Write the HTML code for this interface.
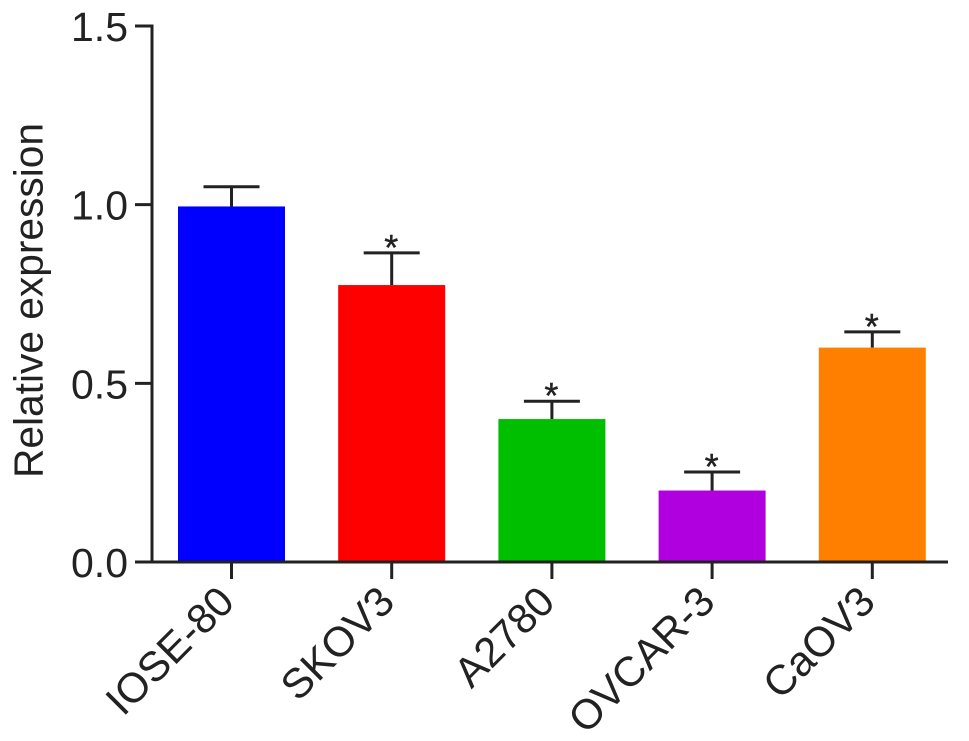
<!DOCTYPE html>
<html>
<head>
<meta charset="utf-8">
<style>
html,body{margin:0;padding:0;background:#fff;width:969px;height:741px;overflow:hidden}
svg{display:block}
text{font-family:"Liberation Sans",Arial,sans-serif;fill:#222}
</style>
</head>
<body>
<svg id="chart" width="969" height="741" viewBox="0 0 969 741" xmlns="http://www.w3.org/2000/svg"></svg>
<script>
const categories = ["IOSE-80", "SKOV3", "A2780", "OVCAR-3", "CaOV3"];
const values = [0.995, 0.775, 0.4, 0.2, 0.6];
const errors = [0.055, 0.09, 0.05, 0.052, 0.044];
const significant = [false, true, true, true, true];
const colors = ["#0000ff", "#ff0000", "#00bf00", "#b000e0", "#ff8000"];
const yTicks = [0, 0.5, 1.0, 1.5];

const svg = document.getElementById('chart');
const NS = 'http://www.w3.org/2000/svg';
const axisLeft = 152, axisRight = 948, y0 = 562, y15 = 26;
const firstCenter = 231.5, step = 160.2, barWidth = 107;
const yScale = v => y0 - (v / 1.5) * (y0 - y15);
const xScale = i => firstCenter + i * step;
const ink = '#222';

function add(tag, attrs, text) {
  const el = document.createElementNS(NS, tag);
  for (const k in attrs) el.setAttribute(k, attrs[k]);
  if (text !== undefined) el.textContent = text;
  svg.appendChild(el);
  return el;
}

categories.forEach((c, i) => {
  const x = xScale(i), top = yScale(values[i]), errTop = yScale(values[i] + errors[i]);
  const stem = add('line', {x1: x, x2: x, y1: top, y2: errTop, stroke: ink, 'stroke-width': 3});
  
  
  const cap = add('line', {x1: x - 28, x2: x + 28, y1: errTop, y2: errTop, stroke: ink, 'stroke-width': 3});
  
  
  const bar = add('rect', {x: x - barWidth / 2, y: top, width: barWidth, height: y0 - top, fill: colors[i]});
  
  
  if (significant[i]) {
    const star = add('text', {x: x - 0.5, y: errTop + 7, 'text-anchor': 'middle', 'font-size': 36, stroke: ink, 'stroke-width': 0.4}, '*');
    
    
  }
  const tick = add('line', {x1: x, x2: x, y1: y0, y2: y0 + 17, stroke: ink, 'stroke-width': 3});
  
  
  const lx = x + 5, ly = y0 + 42;
  const label = add('text', {x: lx, y: ly, 'text-anchor': 'end', 'font-size': 41.8, transform: 'rotate(-45 ' + lx + ' ' + ly + ')'}, c);
  
  
});

yTicks.forEach(t => {
  const y = yScale(t);
  const tick = add('line', {x1: axisLeft - 17, x2: axisLeft, y1: y, y2: y, stroke: ink, 'stroke-width': 3});
  
  
  const label = add('text', {x: 128, y: y + 15, 'text-anchor': 'end', 'font-size': 41}, t.toFixed(1));
  
  
});

const yAxis = add('line', {x1: axisLeft, x2: axisLeft, y1: y15 - 1.5, y2: y0 + 1.5, stroke: ink, 'stroke-width': 3});


const xAxis = add('line', {x1: axisLeft, x2: axisRight, y1: y0, y2: y0, stroke: ink, 'stroke-width': 3});


const yTitle = add('text', {x: 42.5, y: 300.5, 'text-anchor': 'middle', 'font-size': 40.7, transform: 'rotate(-90 42.5 300.5)'}, 'Relative expression');


</script>
</body>
</html>
